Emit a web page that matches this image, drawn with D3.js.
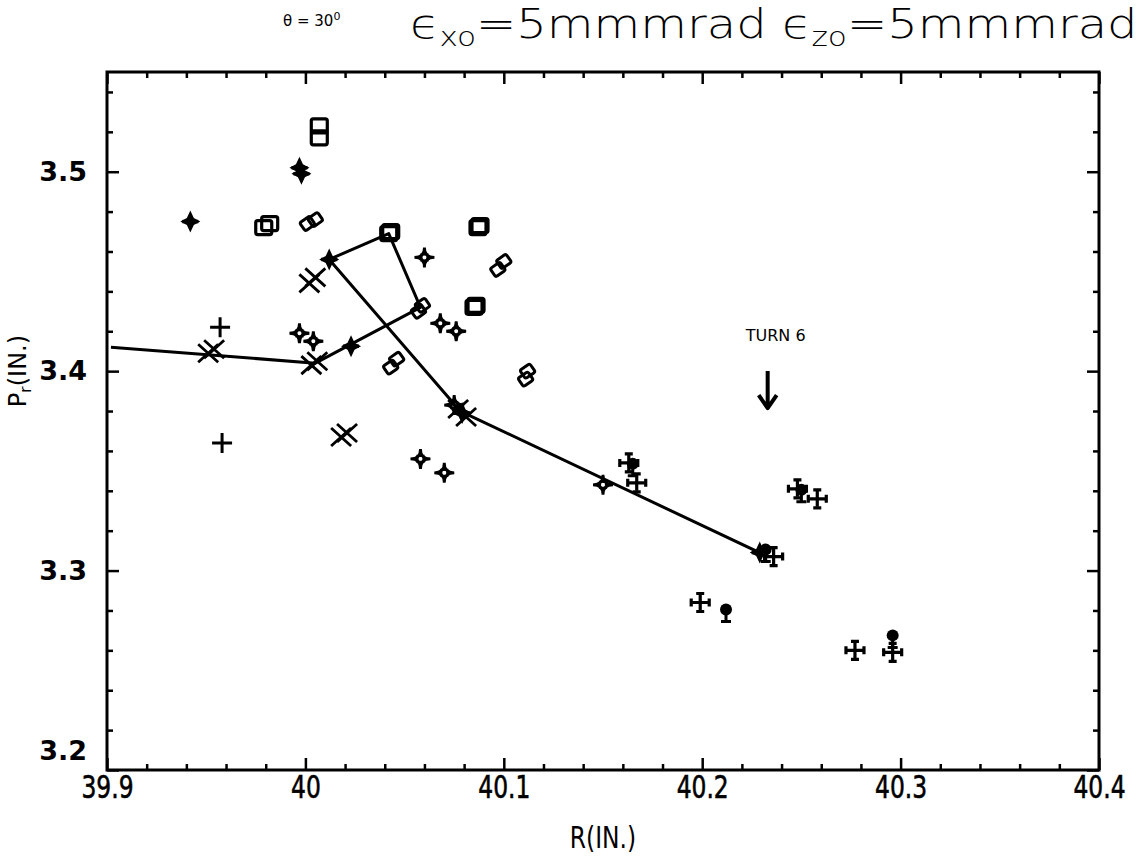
<!DOCTYPE html>
<html>
<head>
<meta charset="utf-8">
<script src="https://cdn.jsdelivr.net/npm/d3@7/dist/d3.min.js"></script>
<style>
  html, body { margin: 0; padding: 0; background: #fff; }
  svg { display: block; }
  text { fill: #000; }
</style>
</head>
<body>
<svg id="chart" width="1142" height="860"></svg>
<script>
// ---------- data ----------
const xTicks = [39.9, 40.0, 40.1, 40.2, 40.3, 40.4];
const xTickLabels = ["39.9", "40", "40.1", "40.2", "40.3", "40.4"];
const yTicks = [3.2, 3.3, 3.4, 3.5];
const yTickLabels = ["3.2", "3.3", "3.4", "3.5"];

// connected track
const trackPts = [[39.902, 3.412], [40.005, 3.404], [40.058, 3.432], [40.042, 3.469],
                  [40.012, 3.456], [40.078, 3.380], [40.231, 3.308]];

const plusPts = [[39.957, 3.422], [39.958, 3.364]];
const filledStarPts = [[39.942, 3.475], [39.997, 3.502], [39.998, 3.499], [40.012, 3.456],
                       [40.023, 3.4125], [40.079, 3.379], [40.229, 3.309]];
const squarePts = [[40.007, 3.523], [40.007, 3.517], [39.979, 3.472], [39.982, 3.474],
                   [40.042, 3.469], [40.043, 3.470], [40.088, 3.473], [40.087, 3.472],
                   [40.085, 3.432], [40.086, 3.433]];
const diamondPts = [[40.001, 3.474], [40.005, 3.476], [40.057, 3.430], [40.059, 3.433],
                    [40.097, 3.451], [40.100, 3.455], [40.043, 3.402], [40.046, 3.406],
                    [40.111, 3.396], [40.112, 3.400]];
const xMarkPts = [[39.951, 3.409], [39.954, 3.411], [40.002, 3.444], [40.005, 3.447],
                  [40.003, 3.403], [40.006, 3.405], [40.018, 3.367], [40.021, 3.369],
                  [40.077, 3.381], [40.081, 3.377]];
const astroidPts = [[39.997, 3.419], [40.004, 3.415], [40.068, 3.424], [40.076, 3.420],
                    [40.058, 3.356], [40.070, 3.349], [40.075, 3.383], [40.150, 3.343],
                    [40.060, 3.457]];
const malteseCrossPts = [[40.167, 3.344], [40.236, 3.307], [40.258, 3.336], [40.199, 3.284],
                         [40.277, 3.260], [40.296, 3.259], [40.163, 3.354], [40.248, 3.341]];
const clubPts = [[40.165, 3.352], [40.232, 3.309], [40.250, 3.339], [40.212, 3.279],
                 [40.296, 3.266]];

const turnLabel = "TURN 6";
const turnPos = [40.233, 3.390];

// ---------- layout ----------
const svg = d3.select("#chart");
const x = d3.scaleLinear().domain([39.9, 40.4]).range([107, 1099]);
const y = d3.scaleLinear().domain([3.2, 3.55]).range([770, 72]);
const font = "'DejaVu Sans', sans-serif";

// frame
svg.append("rect")
  .attr("x", x(39.9)).attr("y", y(3.55))
  .attr("width", x(40.4) - x(39.9)).attr("height", y(3.2) - y(3.55))
  .attr("fill", "none").attr("stroke", "#000").attr("stroke-width", 3);

const xMinor = d3.range(0, 26).map(i => 39.9 + i * 0.02).filter(v => !xTicks.some(t => Math.abs(t - v) < 1e-6));
const yMinor = d3.range(0, 18).map(i => 3.2 + i * 0.02).filter(v => v <= 3.5501 && !yTicks.some(t => Math.abs(t - v) < 1e-6));

function styleAxis(g) {
  g.select(".domain").remove();
  g.selectAll(".tick line").attr("stroke", "#000").attr("stroke-width", 2.5);
}

// bottom major with labels
svg.append("g").attr("transform", `translate(0,${y(3.2)})`)
  .call(d3.axisBottom(x).tickValues(xTicks).tickSize(-12).tickPadding(5)
        .tickFormat((d, i) => xTickLabels[i]))
  .call(styleAxis)
  .call(g => g.selectAll("text").attr("font-family", font).attr("font-size", 26)
      .attr("transform", "scale(0.9,1.2)")
      .attr("fill", "#000").attr("stroke", "#000").attr("stroke-width", 0.5));
svg.append("g").attr("transform", `translate(0,${y(3.2)})`)
  .call(d3.axisBottom(x).tickValues(xMinor).tickSize(-6).tickFormat(""))
  .call(styleAxis);
// top
svg.append("g").attr("transform", `translate(0,${y(3.55)})`)
  .call(d3.axisTop(x).tickValues(xTicks).tickSize(-12).tickFormat(""))
  .call(styleAxis);
svg.append("g").attr("transform", `translate(0,${y(3.55)})`)
  .call(d3.axisTop(x).tickValues(xMinor).tickSize(-6).tickFormat(""))
  .call(styleAxis);
// left
svg.append("g").attr("transform", `translate(${x(39.9)},0)`)
  .call(d3.axisLeft(y).tickValues(yTicks).tickSize(-12).tickPadding(20)
        .tickFormat((d, i) => yTickLabels[i]))
  .call(styleAxis)
  .call(g => g.selectAll("text").attr("font-family", font).attr("font-size", 27)
      .attr("font-weight", "bold").attr("fill", "#000"))
  .call(g => g.selectAll(".tick").filter(d => d === 3.2).select("text").attr("dy", "-0.4em"));
svg.append("g").attr("transform", `translate(${x(39.9)},0)`)
  .call(d3.axisLeft(y).tickValues(yMinor).tickSize(-6).tickFormat(""))
  .call(styleAxis);
// right
svg.append("g").attr("transform", `translate(${x(40.4)},0)`)
  .call(d3.axisRight(y).tickValues(yTicks).tickSize(-12).tickFormat(""))
  .call(styleAxis);
svg.append("g").attr("transform", `translate(${x(40.4)},0)`)
  .call(d3.axisRight(y).tickValues(yMinor).tickSize(-6).tickFormat(""))
  .call(styleAxis);

// axis titles
svg.append("text").attr("transform", `translate(${(x(39.9) + x(40.4)) / 2},848) scale(0.9,1.15)`)
  .attr("text-anchor", "middle").attr("font-family", font).attr("font-size", 26)
  .text("R(IN.)");
const yl = svg.append("text").attr("transform", `translate(26,${y(3.4)}) rotate(-90)`)
  .attr("text-anchor", "middle").attr("font-family", font).attr("font-size", 24);
yl.append("tspan").text("P");
yl.append("tspan").attr("font-size", 16).attr("dy", 5).text("r");
yl.append("tspan").attr("dy", -5).text("(IN.)");

// titles
const t1 = svg.append("text").attr("x", 283).attr("y", 26)
  .attr("font-family", font).attr("font-size", 15);
t1.append("tspan").text("θ = 30");
t1.append("tspan").attr("font-size", 11).attr("dy", -6).text("0");

const t2 = svg.append("text").attr("transform", "translate(410,38) scale(1.2,1)")
  .attr("font-family", font).attr("font-size", 40).attr("font-weight", 300);
t2.append("tspan").text("ϵ");
t2.append("tspan").attr("font-size", 26).attr("dy", 8).text("xo");
t2.append("tspan").attr("dy", -8).text("=5mmmrad ϵ");
t2.append("tspan").attr("font-size", 26).attr("dy", 8).text("zo");
t2.append("tspan").attr("dy", -8).text("=5mmmrad");

// track line
svg.append("path").datum(trackPts)
  .attr("d", d3.line().x(d => x(d[0])).y(d => y(d[1])))
  .attr("fill", "none").attr("stroke", "#000").attr("stroke-width", 3)
  .attr("stroke-linejoin", "round");

// ---------- symbols ----------
function drawSym(data, fn) {
  svg.append("g").selectAll("g").data(data).join("g")
    .attr("transform", d => `translate(${x(d[0])},${y(d[1])})`)
    .each(function () { fn(d3.select(this)); });
}
const S = "#000";

drawSym(plusPts, g => {
  g.append("path").attr("d", "M-10,0H10M0,-10V10").attr("stroke", S).attr("stroke-width", 3);
});
drawSym(filledStarPts, g => {
  g.append("path").attr("d", "M0,-11L3.5,-3.5L10,0L3.5,3.5L0,11L-3.5,3.5L-10,0L-3.5,-3.5Z").attr("fill", S);
  g.append("path").attr("d", "M-8,0H8").attr("stroke", S).attr("stroke-width", 3.5);
});
drawSym(squarePts, g => {
  g.append("rect").attr("x", -8).attr("y", -7).attr("width", 16).attr("height", 14)
    .attr("rx", 2).attr("fill", "none").attr("stroke", S).attr("stroke-width", 3.2);
});
drawSym(diamondPts, g => {
  g.append("rect").attr("x", -6).attr("y", -5).attr("width", 12).attr("height", 10)
    .attr("rx", 2).attr("transform", "rotate(-35)")
    .attr("fill", "none").attr("stroke", S).attr("stroke-width", 3);
});
drawSym(xMarkPts, g => {
  g.append("path").attr("d", "M-10,-9L10,9M-10,9L10,-9").attr("stroke", S).attr("stroke-width", 2.8);
});
drawSym(astroidPts, g => {
  g.append("path").attr("d", "M0,-10Q0,0 10,0Q0,0 0,10Q0,0 -10,0Q0,0 0,-10Z")
    .attr("fill", "none").attr("stroke", S).attr("stroke-width", 2.8);
  g.append("rect").attr("x", -3).attr("y", -3).attr("width", 6).attr("height", 6)
    .attr("fill", "none").attr("stroke", S).attr("stroke-width", 2.2);
});
drawSym(malteseCrossPts, g => {
  g.append("path").attr("d", "M-8,0H8M0,-8V8").attr("stroke", S).attr("stroke-width", 3.2);
  g.append("path").attr("d", "M-9,-4V4M9,-4V4M-4,-9H4M-4,9H4").attr("stroke", S).attr("stroke-width", 3.2);
});
drawSym(clubPts, g => {
  g.append("circle").attr("cy", -3).attr("r", 6).attr("fill", S);
  g.append("path").attr("d", "M0,0V10M-5,9H5").attr("stroke", S).attr("stroke-width", 3);
});

// annotation
svg.append("text").attr("x", x(turnPos[0]) + 8).attr("y", y(turnPos[1]) - 50)
  .attr("text-anchor", "middle").attr("font-family", font).attr("font-size", 16)
  .text(turnLabel);
svg.append("path")
  .attr("d", `M${x(turnPos[0])},${y(turnPos[1]) - 20}V${y(turnPos[1]) + 16}M${x(turnPos[0]) - 9},${y(turnPos[1]) + 4}L${x(turnPos[0])},${y(turnPos[1]) + 17}L${x(turnPos[0]) + 9},${y(turnPos[1]) + 4}`)
  .attr("fill", "none").attr("stroke", S).attr("stroke-width", 4).attr("stroke-linejoin", "round");
</script>
</body>
</html>
